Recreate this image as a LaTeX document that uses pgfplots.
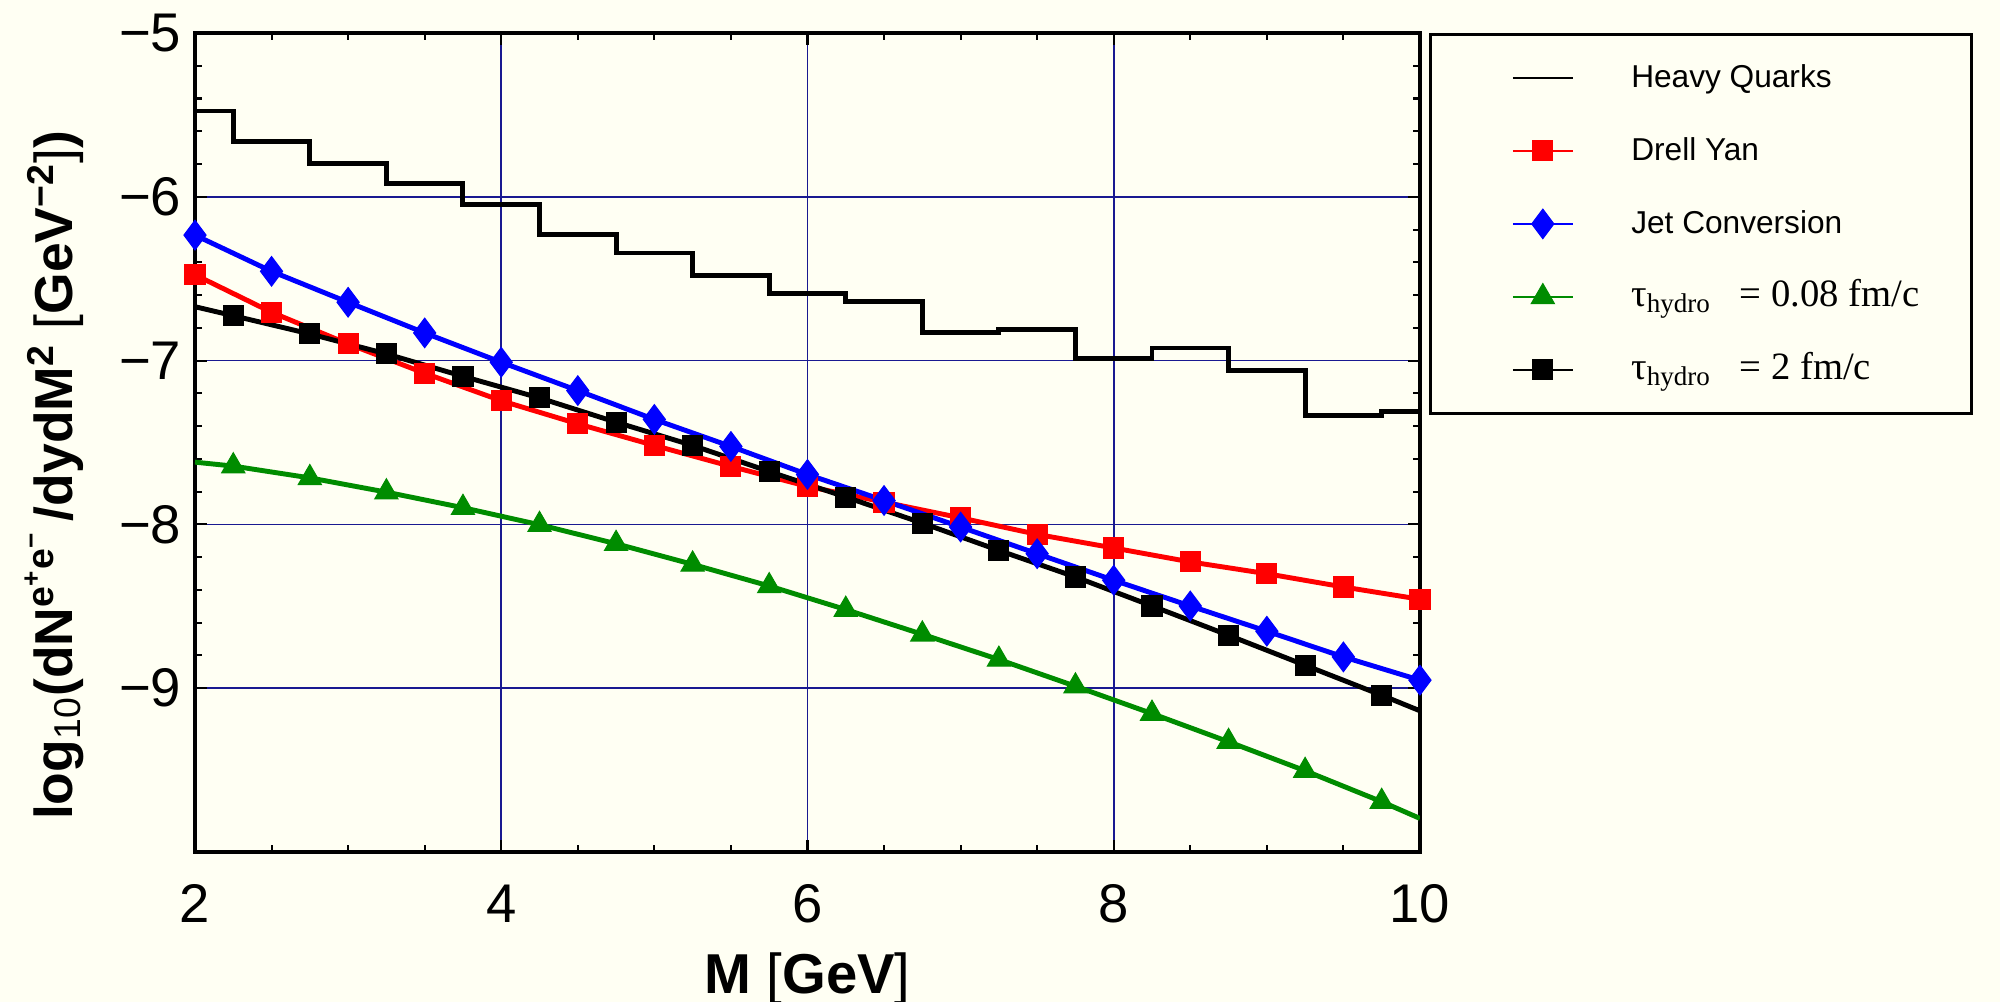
\documentclass[border=0pt]{standalone}
\usepackage{fontspec}
\setmainfont{Liberation Sans}
\newfontfamily\timesfont{Liberation Serif}
\usepackage{pgfplots}
\pgfplotsset{compat=1.18}
\definecolor{cream}{RGB}{255,255,243}
\definecolor{gridblue}{RGB}{25,25,145}
\definecolor{dkgreen}{RGB}{0,140,0}

\begin{document}
\begin{tikzpicture}
\useasboundingbox (-1.95,-1.50) rectangle (18.05,8.52);
\fill[cream] (-1.95,-1.50) rectangle (18.05,8.52);
\begin{axis}[
  scale only axis, width=12.25cm, height=8.19cm,
  at={(0,0)}, anchor=south west,
  xmin=2, xmax=10, ymin=-10, ymax=-5,
  xtick={2,4,6,8,10}, ytick={-9,-8,-7,-6,-5},
  yticklabels={−9,−8,−7,−6,−5},
  minor x tick num=3, minor y tick num=4,
  grid=major, major grid style={gridblue, line width=0.5pt},
  tick align=inside,
  major tick length=0.12cm, minor tick length=0.07cm,
  every tick/.style={black, line width=0.6pt},
  axis line style={black, line width=1pt},
  /pgf/number format/assume math mode=true,
  ticklabel style={font=\fontsize{15.5}{18}\selectfont},
  yticklabel style={inner xsep=0pt, xshift=-0.13cm},
  xticklabel style={anchor=base, inner sep=0pt, yshift=-0.70cm},
  xlabel={\fontsize{16}{19}\selectfont\bfseries M {\mdseries[}GeV{\mdseries]}},
  xlabel style={at={(axis description cs:0.5,0)}, anchor=base, yshift=-1.41cm},
  ylabel={\fontsize{15.2}{18}\selectfont\bfseries log\textsubscript{\mdseries 10}(dN\textsuperscript{e\textsuperscript{+}e\textsuperscript{−}}\,/dydM\textsuperscript{2} {\mdseries[}GeV\textsuperscript{−2}{\mdseries]})},
  ylabel style={at={(axis description cs:-0.115,0.46)}, anchor=center},
  legend cell align=left,
  legend style={
    at={(rel axis cs:1,1)}, anchor=north west, xshift=0.09cm,
    draw=black, line width=0.8pt, fill=cream,
    inner xsep=0.3cm, inner ysep=0.235cm,
    row sep=0.33cm, column sep=0.56cm,
    nodes={inner sep=0pt, text height=0.3cm, text depth=0.1cm, font=\fontsize{9}{11}\selectfont},
  },
  legend image code/.code={
    \path (-0.50cm,0) (0.6cm,0);
    \draw[#1,mark indices={2},line width=0.7pt] plot coordinates {(0cm,0cm) (0.3cm,0cm) (0.6cm,0cm)};
  },
]
\addplot[black, line width=1.4pt, const plot, line join=miter, mark=none] coordinates {
(2,-5.476) (2.25,-5.665) (2.75,-5.797) (3.25,-5.917) (3.75,-6.047) (4.25,-6.230)
(4.75,-6.343) (5.25,-6.482) (5.75,-6.589) (6.25,-6.640) (6.75,-6.831) (7.25,-6.809)
(7.75,-6.986) (8.25,-6.923) (8.75,-7.061) (9.25,-7.337) (9.75,-7.311) (10,-7.311)};
\addlegendentry{\makebox[3.1cm][l]{Heavy Quarks}}

\addplot[red, line width=1.4pt, mark=square*, mark size=2.85pt, mark options={solid, fill=red, draw=red, line width=0.3pt}] coordinates {
(2,-6.476) (2.5,-6.705) (3,-6.898) (3.5,-7.077) (4,-7.245) (4.5,-7.386) (5,-7.518)
(5.5,-7.646) (6,-7.768) (6.5,-7.864) (7,-7.960) (7.5,-8.061) (8,-8.144) (8.5,-8.229)
(9,-8.301) (9.5,-8.382) (10,-8.457)};
\addlegendentry{Drell Yan}

\addplot[blue, line width=1.4pt, mark=diamond*, mark size=4.2pt, mark options={solid, fill=blue, draw=blue, line width=0.3pt}] coordinates {
(2,-6.234) (2.5,-6.455) (3,-6.644) (3.5,-6.831) (4,-7.010) (4.5,-7.183) (5,-7.359)
(5.5,-7.524) (6,-7.695) (6.5,-7.854) (7,-8.016) (7.5,-8.179) (8,-8.341) (8.5,-8.498)
(9,-8.652) (9.5,-8.809) (10,-8.951)};
\addlegendentry{Jet Conversion}

\addplot[dkgreen, line width=1.4pt, mark=triangle*, mark size=3.8pt, mark options={solid, fill=dkgreen, draw=dkgreen, line width=0.3pt},
  mark indices={2,3,4,5,6,7,8,9,10,11,12,13,14,15,16,17}] coordinates {
(2,-7.620) (2.25,-7.644) (2.75,-7.716) (3.25,-7.803) (3.75,-7.898) (4.25,-8.002)
(4.75,-8.118) (5.25,-8.244) (5.75,-8.376) (6.25,-8.520) (6.75,-8.671) (7.25,-8.825)
(7.75,-8.988) (8.25,-9.155) (8.75,-9.327) (9.25,-9.504) (9.75,-9.693) (10,-9.795)};
\addlegendentry{{\timesfont\fontsize{11}{13}\selectfont τ\textsubscript{hydro}\hspace{0.28cm}= 0.08 fm/c}}

\addplot[black, line width=1.4pt, mark=square*, mark size=2.85pt, mark options={solid, fill=black, draw=black, line width=0.3pt},
  mark indices={2,3,4,5,6,7,8,9,10,11,12,13,14,15,16,17}] coordinates {
(2,-6.671) (2.25,-6.726) (2.75,-6.837) (3.25,-6.959) (3.75,-7.096) (4.25,-7.228)
(4.75,-7.376) (5.25,-7.518) (5.75,-7.677) (6.25,-7.833) (6.75,-7.992) (7.25,-8.159)
(7.75,-8.321) (8.25,-8.498) (8.75,-8.677) (9.25,-8.860) (9.75,-9.043) (10,-9.138)};
\addlegendentry{{\timesfont\fontsize{11}{13}\selectfont τ\textsubscript{hydro}\hspace{0.28cm}= 2 fm/c}}
\end{axis}
\end{tikzpicture}
\end{document}
